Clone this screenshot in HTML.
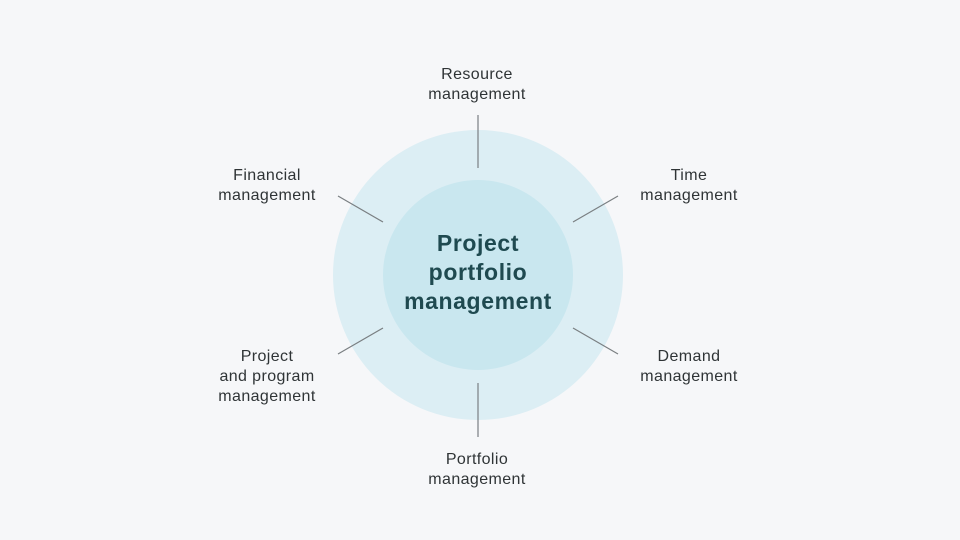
<!DOCTYPE html>
<html><head><meta charset="utf-8"><style>
html,body{margin:0;padding:0}
body{width:960px;height:540px;background:#f6f7f9;position:relative;overflow:hidden;font-family:"Liberation Sans",sans-serif}
.l{position:absolute;font-size:16px;letter-spacing:0.4px;line-height:20px;color:#2f3436;text-align:center;width:200px}
.c{position:absolute;left:368px;top:229px;width:220px;text-align:center;font-size:23px;letter-spacing:0.6px;line-height:29px;font-weight:bold;color:#1f4a50}
</style></head><body>
<svg width="960" height="540" style="position:absolute;left:0;top:0">
<circle cx="478" cy="275" r="145" fill="#dceef4"/>
<circle cx="478" cy="275" r="95" fill="#c9e7ef"/>
<g stroke="#7a7f82" stroke-width="1.2">
<line x1="478" y1="115" x2="478" y2="168"/>
<line x1="478" y1="383" x2="478" y2="437"/>
<line x1="338" y1="196" x2="383" y2="222"/>
<line x1="573" y1="222" x2="618" y2="196"/>
<line x1="338" y1="354" x2="383" y2="328"/>
<line x1="573" y1="328" x2="618" y2="354"/>
</g>
</svg>
<div class="l" style="left:377px;top:65px">Resource<br>management</div>
<div class="l" style="left:167px;top:166px">Financial<br>management</div>
<div class="l" style="left:589px;top:166px">Time<br>management</div>
<div class="l" style="left:167px;top:347px">Project<br>and program<br>management</div>
<div class="l" style="left:589px;top:347px">Demand<br>management</div>
<div class="l" style="left:377px;top:450px">Portfolio<br>management</div>
<div class="c">Project<br>portfolio<br>management</div>
</body></html>
